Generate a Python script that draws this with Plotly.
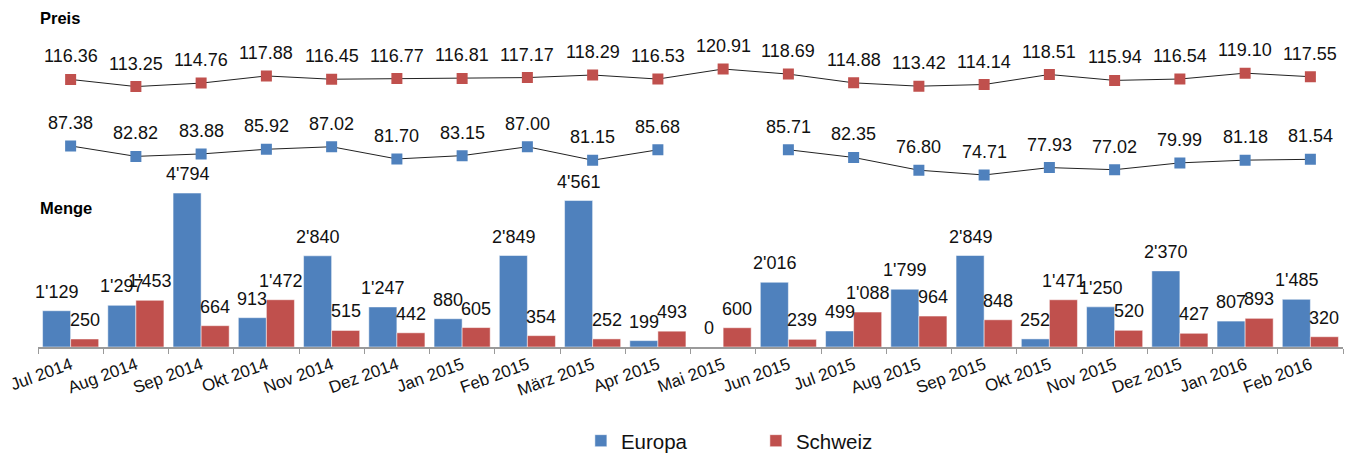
import plotly.graph_objects as go

# data
months = ["Jul 2014", "Aug 2014", "Sep 2014", "Okt 2014", "Nov 2014", "Dez 2014",
          "Jan 2015", "Feb 2015", "März 2015", "Apr 2015", "Mai 2015", "Jun 2015",
          "Jul 2015", "Aug 2015", "Sep 2015", "Okt 2015", "Nov 2015", "Dez 2015",
          "Jan 2016", "Feb 2016"]

menge_europa = [1129, 1297, 4794, 913, 2840, 1247, 880, 2849, 4561, 199,
                0, 2016, 499, 1799, 2849, 252, 1250, 2370, 807, 1485]
menge_schweiz = [250, 1453, 664, 1472, 515, 442, 605, 354, 252, 493,
                 600, 239, 1088, 964, 848, 1471, 520, 427, 893, 320]

preis_schweiz = [116.36, 113.25, 114.76, 117.88, 116.45, 116.77, 116.81, 117.17, 118.29, 116.53,
                 120.91, 118.69, 114.88, 113.42, 114.14, 118.51, 115.94, 116.54, 119.10, 117.55]
preis_europa = [87.38, 82.82, 83.88, 85.92, 87.02, 81.70, 83.15, 87.00, 81.15, 85.68,
                None, 85.71, 82.35, 76.80, 74.71, 77.93, 77.02, 79.99, 81.18, 81.54]

BLUE = "#4F81BD"
RED = "#C0504D"
FONT = "Liberation Sans, Arial, sans-serif"
BARGAP = 0.14


def fmt_menge(v):
    return f"{v:,}".replace(",", "'")


fig = go.Figure()

fig.add_trace(go.Bar(x=months, y=menge_europa, name="Europa", marker_color=BLUE,
                     marker_line=dict(color="rgba(255,255,255,0.5)", width=1),
                     yaxis="y", hoverinfo="y"))
fig.add_trace(go.Bar(x=months, y=menge_schweiz, name="Schweiz", marker_color=RED,
                     marker_line=dict(color="rgba(255,255,255,0.5)", width=1),
                     yaxis="y", hoverinfo="y"))

for vals, col in [(preis_schweiz, RED), (preis_europa, BLUE)]:
    fig.add_trace(go.Scatter(x=months, y=vals, mode="lines+markers", yaxis="y2",
                             line=dict(color="#222222", width=1),
                             marker=dict(symbol="square", size=11, color=col),
                             connectgaps=False, showlegend=False))

annotations = []
half = (1 - BARGAP) / 4
for i in range(len(months)):
    for vals, dx in [(menge_europa, -half), (menge_schweiz, half)]:
        annotations.append(dict(x=i + dx, y=vals[i], xref="x", yref="y",
                                text=fmt_menge(vals[i]), showarrow=False,
                                yanchor="middle", yshift=19,
                                font=dict(size=18, color="#111111", family=FONT)))
    for vals in [preis_schweiz, preis_europa]:
        if vals[i] is None:
            continue
        annotations.append(dict(x=i, y=vals[i], xref="x", yref="y2",
                                text=f"{vals[i]:.2f}", showarrow=False,
                                yanchor="middle", yshift=23,
                                font=dict(size=18, color="#111111", family=FONT)))

annotations.append(dict(text="<b>Preis</b>", x=0, y=1.006, xref="paper", yref="paper",
                        xanchor="left", yanchor="middle", showarrow=False,
                        font=dict(size=16.5, color="black", family=FONT)))
annotations.append(dict(text="<b>Menge</b>", x=0, y=0.425, xref="paper", yref="paper",
                        xanchor="left", yanchor="middle", showarrow=False,
                        font=dict(size=16.5, color="black", family=FONT)))

# the page body adds an 8px margin, so the figure is 8px smaller each way
fig.update_layout(
    width=1345, height=449,
    margin=dict(l=30, r=10, t=12, b=110, autoexpand=False),
    paper_bgcolor="white", plot_bgcolor="white",
    barmode="group", bargap=BARGAP, bargroupgap=0,
    font=dict(family=FONT, color="#111111"),
    xaxis=dict(type="category", range=[-0.5, len(months) - 0.5],
               tickson="boundaries", ticks="outside", ticklen=5,
               tickcolor="#9a9a9a", showline=True, linecolor="#9a9a9a", linewidth=1.5,
               tickangle=-20, tickfont=dict(size=17, color="#111111"),
               showgrid=False, automargin=False, anchor="y"),
    yaxis=dict(domain=[0, 0.491], range=[0, 5000], visible=False, showgrid=False),
    yaxis2=dict(domain=[0.5, 1], range=[71.0, 142.27], visible=False, showgrid=False,
                anchor="x"),
    showlegend=True,
    legend=dict(orientation="h", x=0.416, xanchor="left", y=-0.287, yanchor="middle",
                entrywidth=130, font=dict(size=20.5, color="#111111", family=FONT)),
    annotations=annotations,
)

fig.write_html("out.html")
